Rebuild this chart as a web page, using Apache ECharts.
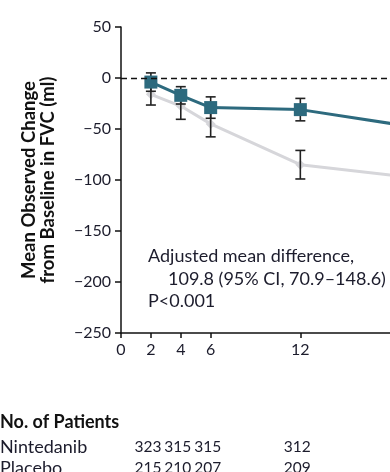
<!DOCTYPE html>
<html>
<head>
<meta charset="utf-8">
<script src="https://cdn.jsdelivr.net/npm/echarts@6/dist/echarts.min.js"></script>
<style>
  html, body { margin: 0; padding: 0; background: #fff; }
  #chart { width: 390px; height: 472px; }
</style>
</head>
<body>
<div id="chart"></div>
<script>
// Visit weeks and mean observed change in FVC (ml)
const weeks = [2, 4, 6, 12, 24];
const nintedanib = [-4, -17, -29, -31, -58];
const placebo = [-16, -27.5, -45, -85, -105];
// Half-widths of the error bars (ml)
const nintedanibErr = [9, 8.5, 10.5, 11, 12];
const placeboErr = [10.5, 13, 12.7, 14, 15];

const xTicks = [0, 2, 4, 6, 12];

// Numbers at risk under the axis
const riskWeeks = [2, 4, 6, 12];
const nintedanibN = [323, 315, 315, 312];
const placeboN = [215, 210, 207, 209];

const FONT = 'Lato, "Open Sans", sans-serif';
const TEXT = '#1c1c2c';
const NIN_COLOR = '#2d6a7e';
const PLA_COLOR = '#d6d6da';

function pairs(xs, ys) { return xs.map((x, i) => [x, ys[i]]); }
function bars(xs, ys, err) { return xs.map((x, i) => [x, ys[i] - err[i], ys[i] + err[i]]); }

function errorBar(params, api) {
  const x = api.value(0);
  const lo = api.coord([x, api.value(1)]);
  const hi = api.coord([x, api.value(2)]);
  const cap = 5;
  const style = { stroke: '#222', lineWidth: 1.6 };
  return {
    type: 'group',
    children: [
      { type: 'line', shape: { x1: lo[0], y1: lo[1], x2: hi[0], y2: hi[1] }, style },
      { type: 'line', shape: { x1: lo[0] - cap, y1: lo[1], x2: lo[0] + cap, y2: lo[1] }, style },
      { type: 'line', shape: { x1: hi[0] - cap, y1: hi[1], x2: hi[0] + cap, y2: hi[1] }, style }
    ]
  };
}

const chart = echarts.init(document.getElementById('chart'), null, { renderer: 'canvas' });

const option = {
  animation: false,
  backgroundColor: '#fff',
  grid: { left: 121, right: 0, top: 27, bottom: 139, containLabel: false },
  xAxis: {
    type: 'value', min: 0, max: 18,
    axisLine: { show: true, onZero: false, lineStyle: { color: '#111', width: 1.5 } },
    axisTick: { show: true, length: 5, customValues: xTicks, lineStyle: { color: '#111', width: 1.5 } },
    axisLabel: { customValues: xTicks, color: TEXT, fontFamily: FONT, fontSize: 16, margin: 9 },
    splitLine: { show: false }
  },
  yAxis: {
    type: 'value', min: -250, max: 50, interval: 50,
    name: 'Mean Observed Change\nfrom Baseline in FVC (ml)',
    nameLocation: 'middle', nameRotate: 90, nameGap: 63,
    nameTextStyle: { fontFamily: FONT, fontWeight: 'bold', fontSize: 18.5, color: '#111', lineHeight: 19 },
    axisLine: { show: true, onZero: false, lineStyle: { color: '#111', width: 1.5 } },
    axisTick: { show: true, length: 6, lineStyle: { color: '#111', width: 1.5 } },
    axisLabel: {
      color: TEXT, fontFamily: FONT, fontSize: 16, margin: 10,
      formatter: v => (v < 0 ? '\u2212' + Math.abs(v) : String(v))
    },
    splitLine: { show: false }
  },
  series: [
    {
      name: 'Placebo', type: 'line', data: pairs(weeks, placebo),
      symbol: 'diamond', symbolSize: 10, z: 2,
      lineStyle: { color: PLA_COLOR, width: 3 }, itemStyle: { color: PLA_COLOR },
      markLine: {
        silent: true, symbol: 'none', label: { show: false },
        lineStyle: { color: '#111', type: [6, 4], width: 1.4 },
        data: [{ yAxis: 0 }]
      }
    },
    {
      name: 'Placebo error', type: 'custom', data: bars(weeks, placebo, placeboErr),
      renderItem: errorBar, z: 3, clip: true
    },
    {
      name: 'Nintedanib error', type: 'custom', data: bars(weeks, nintedanib, nintedanibErr),
      renderItem: errorBar, z: 3, clip: true
    },
    {
      name: 'Nintedanib', type: 'line', data: pairs(weeks, nintedanib),
      symbol: 'rect', symbolSize: 13, z: 4,
      lineStyle: { color: NIN_COLOR, width: 3 }, itemStyle: { color: NIN_COLOR }
    }
  ],
  graphic: [
    { type: 'text', x: 148, y: 256, style: { text: 'Adjusted mean difference,', fill: TEXT, font: '18px ' + FONT, verticalAlign: 'middle' } },
    { type: 'text', x: 168, y: 279, style: { text: '109.8 (95% CI, 70.9\u2013148.6)', fill: TEXT, font: '18px ' + FONT, verticalAlign: 'middle' } },
    { type: 'text', x: 148, y: 301, style: { text: 'P<0.001', fill: TEXT, font: '18px ' + FONT, verticalAlign: 'middle' } },
    { type: 'text', x: 0, y: 422, style: { text: 'No. of Patients', fill: '#111', font: 'bold 18px ' + FONT, verticalAlign: 'middle' } },
    { type: 'text', x: 0, y: 447, style: { text: 'Nintedanib', fill: TEXT, font: '18px ' + FONT, verticalAlign: 'middle' } },
    { type: 'text', x: 0, y: 468, style: { text: 'Placebo', fill: TEXT, font: '18px ' + FONT, verticalAlign: 'middle' } }
  ]
};

chart.setOption(option);

// Place the at-risk counts under their visit weeks
const riskTexts = [];
riskWeeks.forEach((w, i) => {
  const px = chart.convertToPixel({ xAxisIndex: 0 }, w) - 3;
  riskTexts.push({ type: 'text', x: px, y: 447, style: { text: String(nintedanibN[i]), fill: TEXT, font: '15.5px ' + FONT, textAlign: 'center', verticalAlign: 'middle' } });
  riskTexts.push({ type: 'text', x: px, y: 468, style: { text: String(placeboN[i]), fill: TEXT, font: '15.5px ' + FONT, textAlign: 'center', verticalAlign: 'middle' } });
});
chart.setOption({ graphic: option.graphic.concat(riskTexts) });
</script>
</body>
</html>
